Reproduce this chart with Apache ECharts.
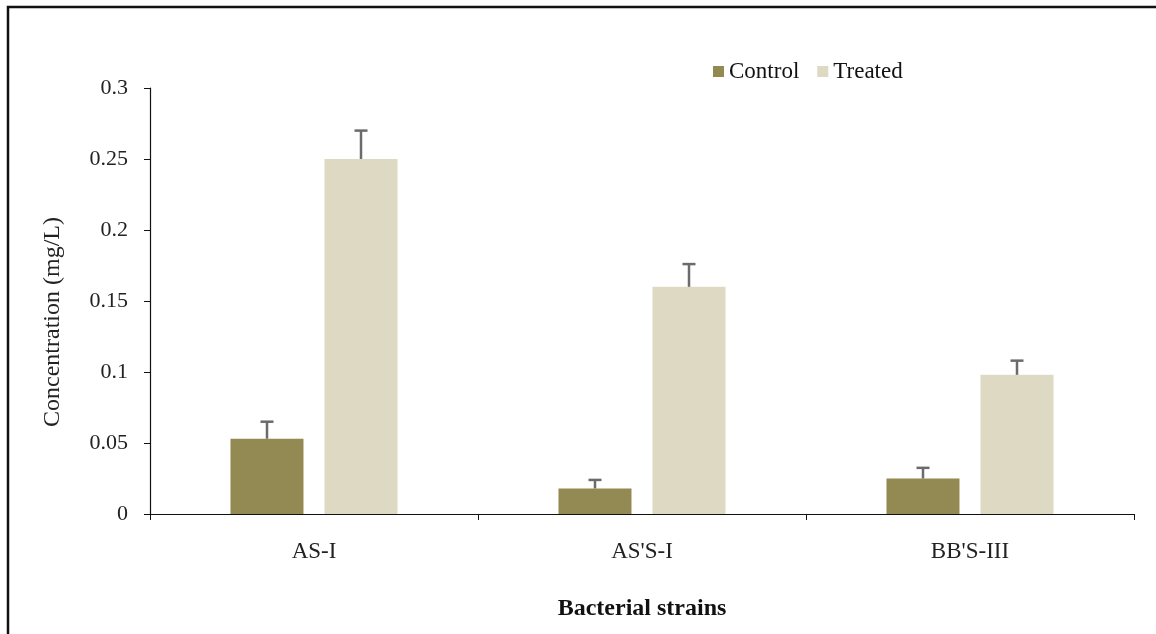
<!DOCTYPE html>
<html>
<head>
<meta charset="utf-8">
<script src="https://cdn.jsdelivr.net/npm/echarts@6/dist/echarts.min.js"></script>
<style>
  html, body { margin: 0; padding: 0; background: #fff; }
  #chart { width: 1156px; height: 634px; }
</style>
</head>
<body>
<div id="chart"></div>
<script>
// Bacterial strains and measured concentrations (mg/L)
const strains = ['AS-I', "AS'S-I", "BB'S-III"];
const controlValues = [0.053, 0.018, 0.025];
const treatedValues = [0.25, 0.16, 0.098];
// Standard error (upper bars)
const controlErrors = [0.012, 0.006, 0.0075];
const treatedErrors = [0.02, 0.016, 0.01];
const yTicks = [0, 0.05, 0.1, 0.15, 0.2, 0.25, 0.3];

const BAR_W = 73;
const BAR_GAP = 21;
const serif = '"Liberation Serif", "Times New Roman", serif';

function errorSeries(name, values, errors, side) {
  return {
    type: 'custom',
    name: name + ' error',
    z: 5,
    silent: true,
    data: values.map((v, i) => [i, v, v + errors[i]]),
    renderItem: function (params, api) {
      const idx = api.value(0);
      const base = api.coord([idx, api.value(1)]);
      const top = api.coord([idx, api.value(2)]);
      const x = base[0] + side * (BAR_W + BAR_GAP) / 2;
      const cap = 6.5;
      const style = { stroke: '#6b6b6b', lineWidth: 2.5, fill: 'none' };
      return {
        type: 'group',
        children: [
          { type: 'line', shape: { x1: x, y1: base[1], x2: x, y2: top[1] }, style: style },
          { type: 'line', shape: { x1: x - cap, y1: top[1], x2: x + cap, y2: top[1] }, style: style }
        ]
      };
    }
  };
}

const chart = echarts.init(document.getElementById('chart'), null, { renderer: 'canvas' });
chart.setOption({
  backgroundColor: '#ffffff',
  animation: false,
  textStyle: { fontFamily: serif },
  graphic: [
    { type: 'polyline', shape: { points: [[8, 640], [8, 7], [1160, 7]] },
      style: { stroke: '#111', lineWidth: 2.5, fill: 'none' }, z: 10 }
  ],
  legend: {
    data: ['Control', 'Treated'],
    left: 708,
    top: 55,
    icon: 'rect',
    itemWidth: 11,
    itemHeight: 11,
    itemGap: 18,
    textStyle: { fontFamily: serif, fontSize: 23, color: '#111' }
  },
  grid: { left: 150, right: 22, top: 88, bottom: 120 },
  xAxis: {
    type: 'category',
    data: strains,
    name: 'Bacterial strains',
    nameLocation: 'middle',
    nameGap: 83,
    nameTextStyle: { fontFamily: serif, fontSize: 24, fontWeight: 'bold', color: '#111' },
    axisLine: { lineStyle: { color: '#111', width: 1.2 } },
    axisTick: { show: true, length: 6, lineStyle: { color: '#111' } },
    axisLabel: { margin: 26, fontFamily: serif, fontSize: 23, color: '#222' }
  },
  yAxis: {
    type: 'value',
    min: 0,
    max: 0.3,
    interval: 0.05,
    name: 'Concentration (mg/L)',
    nameLocation: 'middle',
    nameGap: 85,
    nameTextStyle: { fontFamily: serif, fontSize: 24, color: '#222', padding: [0, 42, 0, 0] },
    splitLine: { show: false },
    axisLine: { show: true, lineStyle: { color: '#111', width: 1.2 } },
    axisTick: { show: true, length: 6, lineStyle: { color: '#111' } },
    axisLabel: {
      margin: 22, fontFamily: serif, fontSize: 22, color: '#222',
      formatter: function (v) {
        const t = yTicks.find(x => Math.abs(x - v) < 1e-9);
        return t === undefined ? '' : String(t);
      }
    }
  },
  series: [
    { name: 'Control', type: 'bar', data: controlValues, barWidth: BAR_W,
      barGap: (BAR_GAP / BAR_W * 100).toFixed(1) + '%',
      itemStyle: { color: '#938953' } },
    { name: 'Treated', type: 'bar', data: treatedValues, barWidth: BAR_W,
      itemStyle: { color: '#ddd9c3' } },
    errorSeries('Control', controlValues, controlErrors, -1),
    errorSeries('Treated', treatedValues, treatedErrors, 1)
  ]
});
</script>
</body>
</html>
